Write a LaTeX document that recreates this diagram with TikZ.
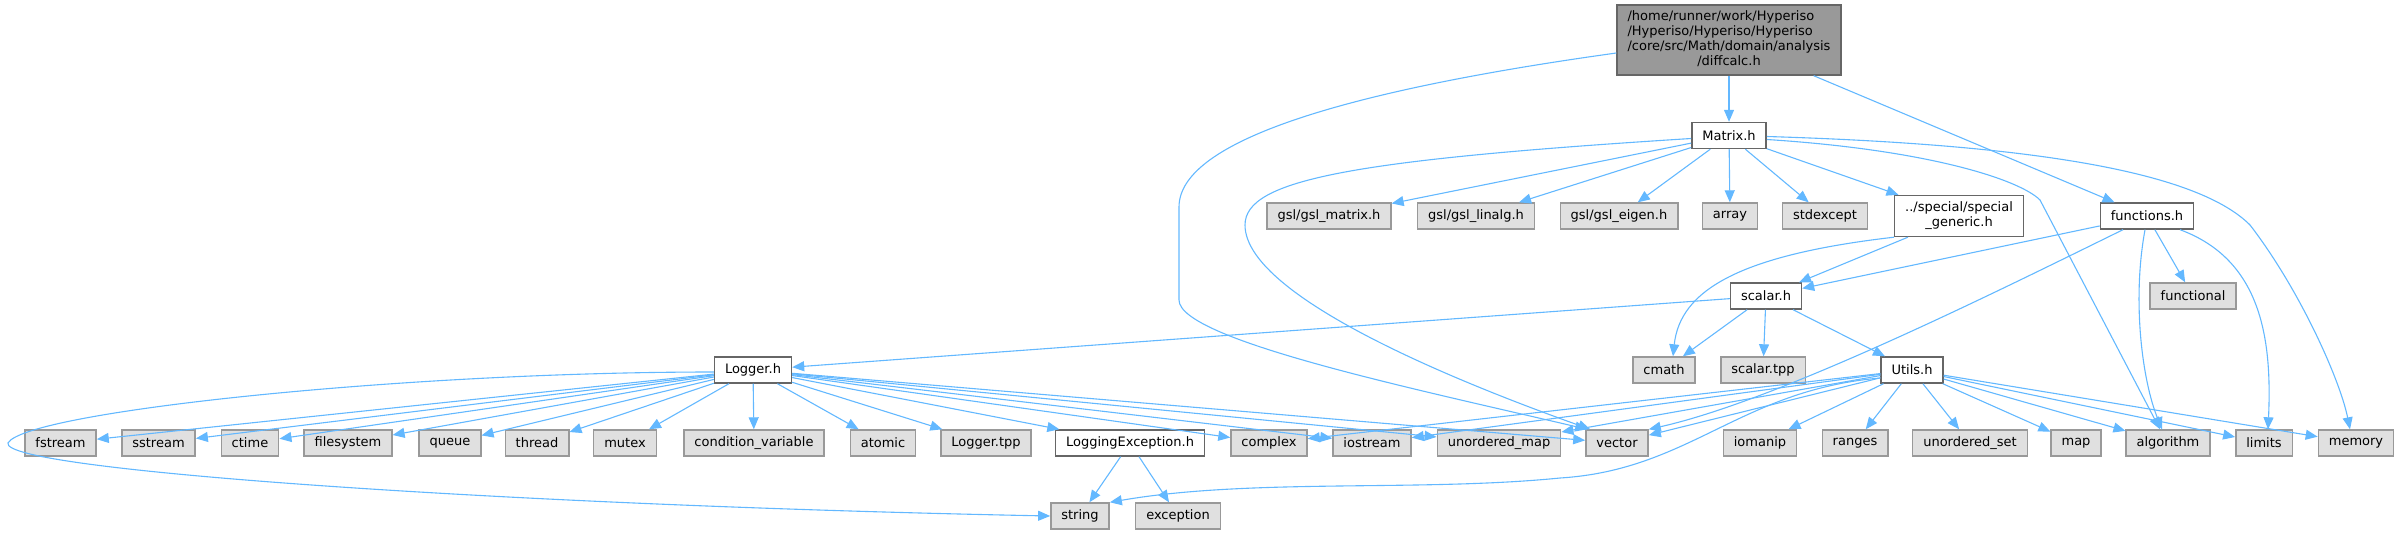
\documentclass[tikz,border=0pt]{standalone}
\usepackage{fontspec}
\setmainfont{DejaVu Sans}
\usepackage{xcolor}
\usepackage{tikz}
\usetikzlibrary{arrows.meta}
\definecolor{edgeblue}{HTML}{63B8FF}
\definecolor{sysfill}{HTML}{E0E0E0}
\definecolor{sysline}{HTML}{999999}
\definecolor{hdrline}{HTML}{666666}
\definecolor{rootfill}{HTML}{999999}

\begin{document}
\begin{tikzpicture}[x=1pt, y=-1pt,
    sys/.style={rectangle, draw=sysline, fill=sysfill, line width=1.4pt,
                text=black, font=\fontsize{13}{15}\selectfont,
                inner xsep=10.5pt, inner ysep=0pt, minimum height=26pt},
    hdr/.style={sys, draw=hdrline, fill=white},
    rootbox/.style={sys, draw=hdrline, fill=rootfill, minimum height=70pt},
    arrow/.style={-{Triangle[length=12pt,width=10pt]}, line width=1.1pt, color=edgeblue}
  ]
    \useasboundingbox (0,0) rectangle (2400,535);

    % top
    \node[rootbox] (root) at (1729, 40) {\renewcommand{\arraystretch}{1}%
      \begin{tabular}{@{}l@{}}/home/runner/work/Hyperiso\\/Hyperiso/Hyperiso/Hyperiso\\
      /core/src/Math/domain/analysis\\\multicolumn{1}{@{}c@{}}{/diffcalc.h}\end{tabular}};
    \node[hdr] (matrix) at (1729, 135.5) {Matrix.h};

    % second row
    \node[sys] (gslmatrix) at (1329, 216) {gsl/gsl\_matrix.h};
    \node[sys] (gsllinalg) at (1476, 216) {gsl/gsl\_linalg.h};
    \node[sys] (gsleigen)  at (1619, 216) {gsl/gsl\_eigen.h};
    \node[sys] (array)     at (1730, 216) {array};
    \node[sys] (stdexcept) at (1825, 216) {stdexcept};
    \node[hdr, align=center, minimum height=41pt] (special) at (1959, 216)
      {../special/special\\\_generic.h};
    \node[hdr] (functions) at (2147, 216) {functions.h};

    \node[hdr] (scalar)     at (1766, 296) {scalar.h};
    \node[sys] (functional) at (2193, 296) {functional};

    \node[hdr] (logger)    at (753, 370)  {Logger.h};
    \node[sys] (cmath)     at (1664, 370) {cmath};
    \node[sys] (scalartpp) at (1763, 370) {scalar.tpp};
    \node[hdr] (utils)     at (1912, 370) {Utils.h};

    % bottom rows
    \node[sys] (fstream)      at (60.5, 443)  {fstream};
    \node[sys] (sstream)      at (158.5, 443) {sstream};
    \node[sys] (ctime)        at (250, 443)   {ctime};
    \node[sys] (filesystem)   at (348, 443)   {filesystem};
    \node[sys] (queue)        at (450, 443)   {queue};
    \node[sys] (thread)       at (537, 443)   {thread};
    \node[sys] (mutex)        at (625, 443)   {mutex};
    \node[sys] (condvar)      at (754, 443)   {condition\_variable};
    \node[sys] (atomic)       at (883, 443)   {atomic};
    \node[sys] (loggertpp)    at (986, 443)   {Logger.tpp};
    \node[hdr] (loggingexc)   at (1130, 443)  {LoggingException.h};
    \node[sys] (complex)      at (1269, 443)  {complex};
    \node[sys] (iostream)     at (1372, 443)  {iostream};
    \node[sys] (unorderedmap) at (1499, 443)  {unordered\_map};
    \node[sys] (vector)       at (1617, 443)  {vector};
    \node[sys] (iomanip)      at (1760, 443)  {iomanip};
    \node[sys] (ranges)       at (1855, 443)  {ranges};
    \node[sys] (unorderedset) at (1970, 443)  {unordered\_set};
    \node[sys] (map)          at (2076, 443)  {map};
    \node[sys] (algorithm)    at (2168, 443)  {algorithm};
    \node[sys] (limits)       at (2264, 443)  {limits};
    \node[sys] (memory)       at (2356, 443)  {memory};

    \node[sys] (string)    at (1080, 516) {string};
    \node[sys] (exception) at (1178, 516) {exception};

    % root
    \draw[arrow] (root) -- (matrix);
    \draw[arrow] (root) -- (functions);
    \draw[arrow] ([yshift=-13pt]root.west) .. controls (1350,90) and (1179,140) .. (1179,207)
      -- (1179,300) .. controls (1179,340) and (1420,390) .. ([xshift=2pt]vector.north west);

    % Matrix.h
    \draw[arrow] (matrix) -- (gslmatrix);
    \draw[arrow] (matrix) -- (gsllinalg);
    \draw[arrow] (matrix) -- (gsleigen);
    \draw[arrow] (matrix) -- (array);
    \draw[arrow] (matrix) -- (stdexcept);
    \draw[arrow] (matrix) -- (special);
    \draw[arrow] ([yshift=-3pt]matrix.west) .. controls (1350,160) and (1245,180) .. (1245,225)
      .. controls (1245,300) and (1480,390) .. ([xshift=5pt]vector.north west);
    \draw[arrow] ([yshift=-4pt]matrix.east) .. controls (1930,150) and (2020,180) .. (2040,200)
      -- ([xshift=-8pt]algorithm.north);
    \draw[arrow] ([yshift=-1pt]matrix.east) .. controls (2050,145) and (2200,175) .. (2250,225)
      .. controls (2300,290) and (2340,380) .. ([xshift=-6pt]memory.north);

    % special_generic.h and functions.h
    \draw[arrow] (special) -- (scalar);
    \draw[arrow] (special.south west) .. controls (1740,255) and (1680,290) .. ([xshift=9pt]cmath.north);
    \draw[arrow] (functions) -- (scalar);
    \draw[arrow] ([xshift=-24pt]functions.south) .. controls (2000,290) and (1780,400) .. (vector.north east);
    \draw[arrow] (functions) -- (functional);
    \draw[arrow] ([xshift=-2pt]functions.south) .. controls (2132,300) and (2142,380) .. ([xshift=-6pt]algorithm.north);
    \draw[arrow] ([xshift=33pt]functions.south) .. controls (2262,260) and (2272,340) .. ([xshift=4pt]limits.north);

    % scalar.h
    \draw[arrow] (scalar) -- (logger);
    \draw[arrow] (scalar) -- (cmath);
    \draw[arrow] (scalar) -- (scalartpp);
    \draw[arrow] (scalar) -- (utils);

    % Logger.h
    \draw[arrow] (logger) -- (fstream);
    \draw[arrow] (logger) -- (sstream);
    \draw[arrow] (logger) -- (ctime);
    \draw[arrow] (logger) -- (filesystem);
    \draw[arrow] (logger) -- (queue);
    \draw[arrow] (logger) -- (thread);
    \draw[arrow] (logger) -- (mutex);
    \draw[arrow] (logger) -- (condvar);
    \draw[arrow] (logger) -- (atomic);
    \draw[arrow] (logger) -- (loggertpp);
    \draw[arrow] (logger) -- (loggingexc);
    \draw[arrow] (logger) -- (complex);
    \draw[arrow] (logger) -- (iostream);
    \draw[arrow] (logger) -- (unorderedmap);
    \draw[arrow] (logger) -- (vector);
    \draw[arrow] ([yshift=-2pt]logger.west) .. controls (400,372) and (25,412) .. (8,443)
      .. controls (0,470) and (500,505) .. (string.west);

    \draw[arrow] (loggingexc) -- (string);
    \draw[arrow] (loggingexc) -- (exception);

    % Utils.h
    \draw[arrow] (utils) -- (complex);
    \draw[arrow] (utils) -- (iostream);
    \draw[arrow] (utils) -- (unorderedmap);
    \draw[arrow] (utils) -- (vector);
    \draw[arrow] (utils) -- (iomanip);
    \draw[arrow] (utils) -- (ranges);
    \draw[arrow] (utils) -- (unorderedset);
    \draw[arrow] (utils) -- (map);
    \draw[arrow] (utils) -- (algorithm);
    \draw[arrow] (utils) -- (limits);
    \draw[arrow] (utils) -- (memory);
    \draw[arrow] ([yshift=-8pt]utils.west) .. controls (1740,390) and (1690,470) .. (1560,478)
      .. controls (1420,492) and (1250,478) .. (string.north east);
  \end{tikzpicture}
\end{document}
